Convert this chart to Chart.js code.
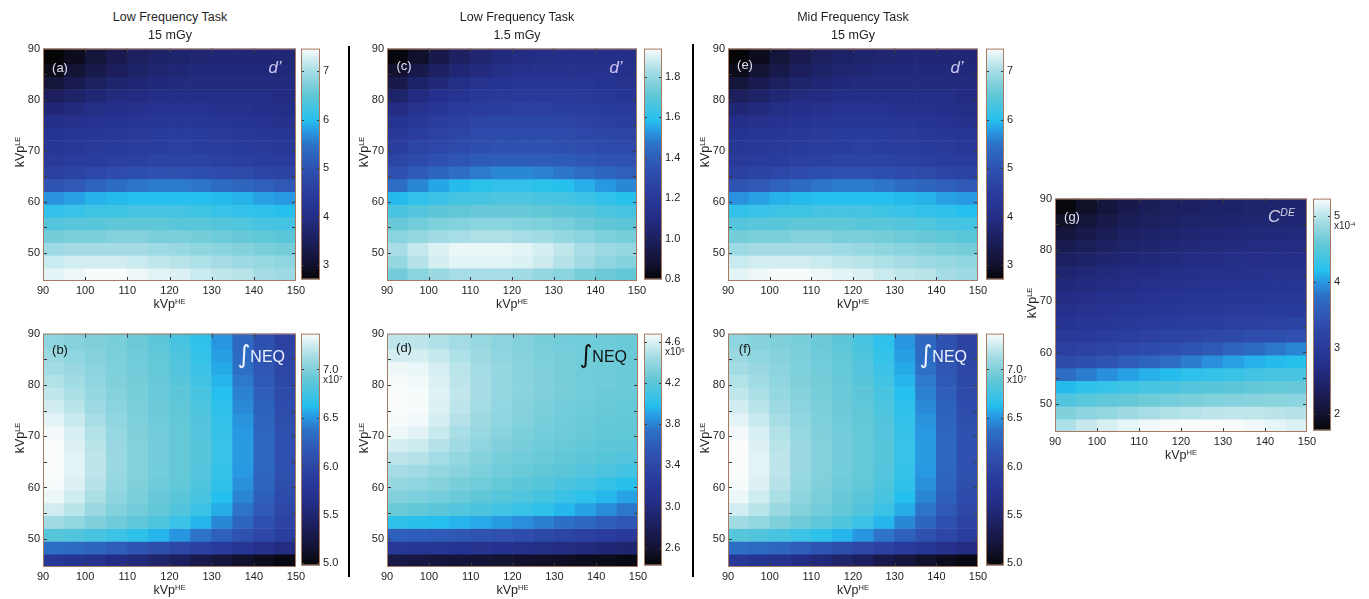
<!DOCTYPE html>
<html>
<head>
<meta charset="utf-8">
<script src="https://cdn.jsdelivr.net/npm/chart.js@4.4.1/dist/chart.umd.min.js"></script>
<style>
  body { margin: 0; width: 1369px; height: 599px; background: #fff; position: relative; overflow: hidden;
         font-family: "Liberation Sans", Arial, sans-serif; color: #1e1e1e; }
  .t { position: absolute; white-space: nowrap; line-height: 1; }
  .sup { font-size: 0.6em; position: relative; top: -0.6em; }
  .sep { position: absolute; background: #000; width: 2px; }
</style>
</head>
<body>
<script>
// grid of the maps: cell centres along kVp(HE), cell edges along kVp(LE), top to bottom
const kvpHE = [92.5, 97.5, 102.5, 107.5, 112.5, 117.5, 122.5, 127.5, 132.5, 137.5, 142.5, 147.5];
const kvpLEEdges = [90, 87, 84.5, 82, 79.5, 77, 74.5, 72, 69.5, 67, 64.5, 62, 59.5, 57, 54.5, 52, 49.5, 47, 44.5];
const heTicks = [90, 100, 110, 120, 130, 140, 150];
const leTicks = [50, 60, 70, 80, 90];
const leMarks = [50, 55, 60, 65, 70, 75, 80, 85];

// (a) d' low frequency, 15 mGy
const dPrimeLow15 = [
  [2.7, 2.88, 3.15, 3.38, 3.55, 3.65, 3.7, 3.75, 3.8, 3.8, 3.8, 3.8],
  [2.85, 3.1, 3.32, 3.5, 3.65, 3.75, 3.8, 3.85, 3.85, 3.85, 3.85, 3.85],
  [3.15, 3.38, 3.55, 3.7, 3.8, 3.85, 3.9, 3.9, 3.9, 3.9, 3.9, 3.9],
  [3.5, 3.65, 3.8, 3.9, 3.95, 4.0, 4.0, 4.0, 4.0, 4.0, 4.0, 3.95],
  [3.8, 3.9, 4.0, 4.05, 4.1, 4.15, 4.15, 4.15, 4.1, 4.1, 4.05, 4.0],
  [4.05, 4.1, 4.15, 4.2, 4.25, 4.3, 4.3, 4.3, 4.25, 4.2, 4.15, 4.1],
  [4.2, 4.25, 4.3, 4.35, 4.4, 4.45, 4.45, 4.45, 4.4, 4.35, 4.3, 4.25],
  [4.3, 4.35, 4.4, 4.45, 4.5, 4.5, 4.55, 4.5, 4.5, 4.45, 4.4, 4.35],
  [4.4, 4.45, 4.5, 4.55, 4.6, 4.65, 4.65, 4.65, 4.6, 4.55, 4.5, 4.45],
  [4.6, 4.65, 4.75, 4.85, 4.9, 4.95, 4.95, 4.9, 4.85, 4.8, 4.7, 4.65],
  [5.0, 5.1, 5.25, 5.4, 5.5, 5.55, 5.55, 5.5, 5.4, 5.3, 5.2, 5.1],
  [5.7, 5.8, 5.9, 5.95, 6.0, 6.0, 6.0, 6.0, 5.95, 5.9, 5.8, 5.75],
  [6.1, 6.15, 6.2, 6.2, 6.25, 6.25, 6.25, 6.2, 6.15, 6.1, 6.05, 6.0],
  [6.4, 6.45, 6.45, 6.5, 6.5, 6.5, 6.45, 6.45, 6.4, 6.35, 6.3, 6.25],
  [6.65, 6.7, 6.7, 6.75, 6.75, 6.7, 6.7, 6.65, 6.6, 6.55, 6.5, 6.45],
  [6.95, 7.0, 7.0, 7.0, 7.0, 6.95, 6.9, 6.85, 6.8, 6.75, 6.7, 6.65],
  [7.2, 7.25, 7.25, 7.25, 7.2, 7.15, 7.1, 7.05, 7.0, 6.95, 6.9, 6.85],
  [7.35, 7.4, 7.45, 7.45, 7.4, 7.35, 7.3, 7.2, 7.15, 7.1, 7.0, 6.95],
];
const dPrimeLow15Range = [2.7, 7.47];
const dPrimeLow15Ticks = [3, 4, 5, 6, 7];

// (b) integrated NEQ low frequency, 15 mGy (x10^7)
const neqLow15 = [
  [7.05, 7.02, 7.0, 6.97, 6.93, 6.87, 6.78, 6.66, 6.5, 6.3, 6.1, 5.95],
  [7.1, 7.06, 7.02, 6.98, 6.94, 6.89, 6.81, 6.69, 6.53, 6.33, 6.13, 5.97],
  [7.13, 7.09, 7.04, 6.99, 6.95, 6.9, 6.83, 6.72, 6.56, 6.36, 6.16, 6.0],
  [7.17, 7.12, 7.06, 7.0, 6.96, 6.91, 6.85, 6.75, 6.6, 6.4, 6.19, 6.02],
  [7.21, 7.15, 7.08, 7.02, 6.97, 6.92, 6.87, 6.78, 6.63, 6.43, 6.22, 6.04],
  [7.26, 7.19, 7.11, 7.04, 6.98, 6.93, 6.88, 6.8, 6.66, 6.46, 6.25, 6.06],
  [7.31, 7.23, 7.14, 7.06, 6.99, 6.94, 6.89, 6.82, 6.68, 6.49, 6.27, 6.08],
  [7.35, 7.27, 7.17, 7.08, 7.0, 6.95, 6.9, 6.83, 6.7, 6.51, 6.29, 6.1],
  [7.37, 7.29, 7.19, 7.09, 7.01, 6.95, 6.9, 6.84, 6.71, 6.52, 6.3, 6.11],
  [7.37, 7.3, 7.2, 7.1, 7.01, 6.95, 6.9, 6.84, 6.71, 6.52, 6.3, 6.11],
  [7.37, 7.3, 7.2, 7.1, 7.01, 6.95, 6.9, 6.83, 6.7, 6.51, 6.29, 6.1],
  [7.36, 7.29, 7.18, 7.08, 7.0, 6.94, 6.89, 6.81, 6.67, 6.48, 6.27, 6.08],
  [7.33, 7.25, 7.15, 7.05, 6.98, 6.92, 6.86, 6.78, 6.63, 6.44, 6.23, 6.05],
  [7.26, 7.19, 7.1, 7.01, 6.95, 6.89, 6.82, 6.72, 6.57, 6.38, 6.18, 6.01],
  [7.12, 7.07, 7.0, 6.94, 6.88, 6.81, 6.72, 6.6, 6.45, 6.28, 6.1, 5.96],
  [6.85, 6.82, 6.78, 6.73, 6.67, 6.6, 6.5, 6.38, 6.25, 6.12, 6.0, 5.9],
  [6.35, 6.32, 6.28, 6.22, 6.15, 6.08, 6.0, 5.92, 5.84, 5.76, 5.68, 5.6],
  [5.8, 5.75, 5.7, 5.62, 5.55, 5.47, 5.39, 5.3, 5.22, 5.14, 5.07, 5.02],
];
const neqLow15Range = [4.98, 7.37];
const neqLow15Ticks = [5.0, 5.5, 6.0, 6.5, 7.0];

// (c) d' low frequency, 1.5 mGy
const dPrimeLow1p5 = [
  [0.81, 0.87, 0.95, 1.01, 1.05, 1.08, 1.1, 1.11, 1.12, 1.12, 1.12, 1.12],
  [0.88, 0.95, 1.01, 1.06, 1.09, 1.11, 1.13, 1.14, 1.14, 1.14, 1.14, 1.13],
  [0.95, 1.02, 1.07, 1.11, 1.14, 1.16, 1.17, 1.17, 1.17, 1.17, 1.16, 1.15],
  [1.03, 1.09, 1.13, 1.16, 1.19, 1.2, 1.21, 1.21, 1.21, 1.2, 1.19, 1.18],
  [1.1, 1.15, 1.18, 1.21, 1.23, 1.24, 1.25, 1.25, 1.24, 1.23, 1.22, 1.21],
  [1.16, 1.2, 1.23, 1.25, 1.27, 1.28, 1.28, 1.28, 1.27, 1.26, 1.25, 1.24],
  [1.2, 1.23, 1.26, 1.28, 1.3, 1.31, 1.31, 1.31, 1.3, 1.29, 1.28, 1.27],
  [1.24, 1.27, 1.29, 1.31, 1.33, 1.34, 1.34, 1.34, 1.33, 1.32, 1.31, 1.3],
  [1.28, 1.31, 1.34, 1.36, 1.38, 1.39, 1.39, 1.39, 1.38, 1.37, 1.35, 1.34],
  [1.34, 1.38, 1.42, 1.45, 1.48, 1.5, 1.5, 1.49, 1.47, 1.45, 1.42, 1.4],
  [1.45, 1.5, 1.55, 1.58, 1.6, 1.61, 1.61, 1.6, 1.59, 1.56, 1.53, 1.5],
  [1.58, 1.61, 1.63, 1.65, 1.66, 1.67, 1.67, 1.66, 1.65, 1.63, 1.61, 1.59],
  [1.66, 1.68, 1.7, 1.71, 1.72, 1.72, 1.72, 1.71, 1.7, 1.69, 1.67, 1.65],
  [1.72, 1.74, 1.76, 1.77, 1.78, 1.78, 1.77, 1.76, 1.75, 1.73, 1.71, 1.7],
  [1.78, 1.8, 1.82, 1.83, 1.84, 1.84, 1.83, 1.82, 1.8, 1.78, 1.76, 1.75],
  [1.83, 1.87, 1.9, 1.92, 1.92, 1.92, 1.91, 1.89, 1.86, 1.83, 1.81, 1.8],
  [1.8, 1.85, 1.89, 1.91, 1.91, 1.91, 1.9, 1.88, 1.85, 1.82, 1.79, 1.77],
  [1.74, 1.78, 1.81, 1.83, 1.83, 1.83, 1.82, 1.8, 1.78, 1.75, 1.73, 1.71],
];
const dPrimeLow1p5Range = [0.8, 1.94];
const dPrimeLow1p5Ticks = [0.8, 1.0, 1.2, 1.4, 1.6, 1.8];

// (d) integrated NEQ low frequency, 1.5 mGy (x10^6)
const neqLow1p5 = [
  [4.52, 4.52, 4.49, 4.45, 4.41, 4.37, 4.34, 4.31, 4.29, 4.28, 4.27, 4.26],
  [4.58, 4.58, 4.54, 4.48, 4.43, 4.38, 4.35, 4.32, 4.3, 4.28, 4.27, 4.26],
  [4.65, 4.64, 4.58, 4.51, 4.45, 4.4, 4.36, 4.33, 4.3, 4.28, 4.27, 4.26],
  [4.67, 4.66, 4.6, 4.52, 4.46, 4.4, 4.36, 4.33, 4.3, 4.28, 4.27, 4.26],
  [4.68, 4.67, 4.61, 4.53, 4.46, 4.4, 4.36, 4.33, 4.3, 4.28, 4.26, 4.25],
  [4.68, 4.67, 4.6, 4.52, 4.45, 4.39, 4.35, 4.32, 4.29, 4.27, 4.25, 4.24],
  [4.67, 4.66, 4.58, 4.5, 4.43, 4.38, 4.34, 4.31, 4.28, 4.26, 4.24, 4.23],
  [4.65, 4.62, 4.55, 4.47, 4.41, 4.36, 4.32, 4.29, 4.27, 4.25, 4.23, 4.22],
  [4.58, 4.56, 4.5, 4.44, 4.38, 4.33, 4.3, 4.27, 4.25, 4.23, 4.21, 4.2],
  [4.52, 4.5, 4.45, 4.4, 4.35, 4.31, 4.28, 4.25, 4.23, 4.21, 4.19, 4.17],
  [4.46, 4.44, 4.4, 4.36, 4.32, 4.28, 4.25, 4.22, 4.2, 4.17, 4.14, 4.1],
  [4.4, 4.38, 4.35, 4.31, 4.28, 4.24, 4.21, 4.18, 4.14, 4.1, 4.05, 4.0],
  [4.34, 4.32, 4.29, 4.26, 4.22, 4.19, 4.15, 4.11, 4.06, 4.01, 3.96, 3.9],
  [4.25, 4.23, 4.2, 4.17, 4.14, 4.1, 4.06, 4.01, 3.96, 3.9, 3.83, 3.76],
  [4.02, 4.0, 3.98, 3.95, 3.92, 3.88, 3.84, 3.79, 3.73, 3.67, 3.6, 3.54],
  [3.62, 3.6, 3.58, 3.55, 3.52, 3.49, 3.45, 3.41, 3.37, 3.33, 3.28, 3.24],
  [3.2, 3.18, 3.16, 3.14, 3.12, 3.1, 3.07, 3.04, 3.01, 2.98, 2.95, 2.92],
  [2.7, 2.68, 2.66, 2.64, 2.62, 2.6, 2.58, 2.56, 2.54, 2.52, 2.5, 2.48],
];
const neqLow1p5Range = [2.43, 4.68];
const neqLow1p5Ticks = [2.6, 3.0, 3.4, 3.8, 4.2, 4.6];

// (e) d' mid frequency, 15 mGy
const dPrimeMid15 = [
  [2.7, 2.88, 3.15, 3.38, 3.55, 3.65, 3.7, 3.75, 3.8, 3.8, 3.8, 3.8],
  [2.85, 3.1, 3.32, 3.5, 3.65, 3.75, 3.8, 3.85, 3.85, 3.85, 3.85, 3.85],
  [3.15, 3.38, 3.55, 3.7, 3.8, 3.85, 3.9, 3.9, 3.9, 3.9, 3.9, 3.9],
  [3.5, 3.65, 3.8, 3.9, 3.95, 4.0, 4.0, 4.0, 4.0, 4.0, 4.0, 3.95],
  [3.8, 3.9, 4.0, 4.05, 4.1, 4.15, 4.15, 4.15, 4.1, 4.1, 4.05, 4.0],
  [4.05, 4.1, 4.15, 4.2, 4.25, 4.3, 4.3, 4.3, 4.25, 4.2, 4.15, 4.1],
  [4.2, 4.25, 4.3, 4.35, 4.4, 4.45, 4.45, 4.45, 4.4, 4.35, 4.3, 4.25],
  [4.3, 4.35, 4.4, 4.45, 4.5, 4.5, 4.55, 4.5, 4.5, 4.45, 4.4, 4.35],
  [4.4, 4.45, 4.5, 4.55, 4.6, 4.65, 4.65, 4.65, 4.6, 4.55, 4.5, 4.45],
  [4.6, 4.65, 4.75, 4.85, 4.9, 4.95, 4.95, 4.9, 4.85, 4.8, 4.7, 4.65],
  [5.0, 5.1, 5.25, 5.4, 5.5, 5.55, 5.55, 5.5, 5.4, 5.3, 5.2, 5.1],
  [5.7, 5.8, 5.9, 5.95, 6.0, 6.0, 6.0, 6.0, 5.95, 5.9, 5.8, 5.75],
  [6.1, 6.15, 6.2, 6.2, 6.25, 6.25, 6.25, 6.2, 6.15, 6.1, 6.05, 6.0],
  [6.4, 6.45, 6.45, 6.5, 6.5, 6.5, 6.45, 6.45, 6.4, 6.35, 6.3, 6.25],
  [6.65, 6.7, 6.7, 6.75, 6.75, 6.7, 6.7, 6.65, 6.6, 6.55, 6.5, 6.45],
  [6.95, 7.0, 7.0, 7.0, 7.0, 6.95, 6.9, 6.85, 6.8, 6.75, 6.7, 6.65],
  [7.2, 7.25, 7.25, 7.25, 7.2, 7.15, 7.1, 7.05, 7.0, 6.95, 6.9, 6.85],
  [7.35, 7.4, 7.45, 7.45, 7.4, 7.35, 7.3, 7.2, 7.15, 7.1, 7.0, 6.95],
];
const dPrimeMid15Range = [2.7, 7.47];
const dPrimeMid15Ticks = [3, 4, 5, 6, 7];

// (f) integrated NEQ mid frequency, 15 mGy (x10^7)
const neqMid15 = [
  [7.05, 7.02, 7.0, 6.97, 6.93, 6.87, 6.78, 6.66, 6.5, 6.3, 6.1, 5.95],
  [7.1, 7.06, 7.02, 6.98, 6.94, 6.89, 6.81, 6.69, 6.53, 6.33, 6.13, 5.97],
  [7.13, 7.09, 7.04, 6.99, 6.95, 6.9, 6.83, 6.72, 6.56, 6.36, 6.16, 6.0],
  [7.17, 7.12, 7.06, 7.0, 6.96, 6.91, 6.85, 6.75, 6.6, 6.4, 6.19, 6.02],
  [7.21, 7.15, 7.08, 7.02, 6.97, 6.92, 6.87, 6.78, 6.63, 6.43, 6.22, 6.04],
  [7.26, 7.19, 7.11, 7.04, 6.98, 6.93, 6.88, 6.8, 6.66, 6.46, 6.25, 6.06],
  [7.31, 7.23, 7.14, 7.06, 6.99, 6.94, 6.89, 6.82, 6.68, 6.49, 6.27, 6.08],
  [7.35, 7.27, 7.17, 7.08, 7.0, 6.95, 6.9, 6.83, 6.7, 6.51, 6.29, 6.1],
  [7.37, 7.29, 7.19, 7.09, 7.01, 6.95, 6.9, 6.84, 6.71, 6.52, 6.3, 6.11],
  [7.37, 7.3, 7.2, 7.1, 7.01, 6.95, 6.9, 6.84, 6.71, 6.52, 6.3, 6.11],
  [7.37, 7.3, 7.2, 7.1, 7.01, 6.95, 6.9, 6.83, 6.7, 6.51, 6.29, 6.1],
  [7.36, 7.29, 7.18, 7.08, 7.0, 6.94, 6.89, 6.81, 6.67, 6.48, 6.27, 6.08],
  [7.33, 7.25, 7.15, 7.05, 6.98, 6.92, 6.86, 6.78, 6.63, 6.44, 6.23, 6.05],
  [7.26, 7.19, 7.1, 7.01, 6.95, 6.89, 6.82, 6.72, 6.57, 6.38, 6.18, 6.01],
  [7.12, 7.07, 7.0, 6.94, 6.88, 6.81, 6.72, 6.6, 6.45, 6.28, 6.1, 5.96],
  [6.85, 6.82, 6.78, 6.73, 6.67, 6.6, 6.5, 6.38, 6.25, 6.12, 6.0, 5.9],
  [6.35, 6.32, 6.28, 6.22, 6.15, 6.08, 6.0, 5.92, 5.84, 5.76, 5.68, 5.6],
  [5.8, 5.75, 5.7, 5.62, 5.55, 5.47, 5.39, 5.3, 5.22, 5.14, 5.07, 5.02],
];
const neqMid15Range = [4.98, 7.37];
const neqMid15Ticks = [5.0, 5.5, 6.0, 6.5, 7.0];

// (g) dual-energy contrast C_DE (x10^-4)
const cde = [
  [1.78, 1.95, 2.1, 2.22, 2.3, 2.36, 2.4, 2.43, 2.45, 2.47, 2.48, 2.5],
  [1.95, 2.08, 2.2, 2.3, 2.37, 2.42, 2.46, 2.49, 2.51, 2.53, 2.54, 2.55],
  [2.1, 2.2, 2.3, 2.38, 2.44, 2.49, 2.52, 2.55, 2.57, 2.59, 2.6, 2.61],
  [2.25, 2.33, 2.4, 2.46, 2.51, 2.55, 2.58, 2.61, 2.63, 2.65, 2.66, 2.67],
  [2.38, 2.44, 2.5, 2.55, 2.59, 2.62, 2.65, 2.68, 2.7, 2.72, 2.73, 2.74],
  [2.5, 2.55, 2.6, 2.64, 2.67, 2.7, 2.73, 2.75, 2.77, 2.79, 2.8, 2.81],
  [2.6, 2.64, 2.68, 2.72, 2.75, 2.78, 2.8, 2.82, 2.84, 2.86, 2.87, 2.88],
  [2.68, 2.72, 2.76, 2.79, 2.82, 2.85, 2.87, 2.9, 2.92, 2.94, 2.95, 2.96],
  [2.76, 2.8, 2.84, 2.87, 2.9, 2.93, 2.96, 2.98, 3.0, 3.02, 3.04, 3.05],
  [2.86, 2.9, 2.94, 2.98, 3.01, 3.04, 3.07, 3.1, 3.12, 3.14, 3.16, 3.18],
  [2.98, 3.02, 3.06, 3.1, 3.14, 3.18, 3.22, 3.26, 3.3, 3.34, 3.37, 3.4],
  [3.12, 3.17, 3.22, 3.27, 3.32, 3.38, 3.45, 3.53, 3.62, 3.72, 3.82, 3.9],
  [3.3, 3.38, 3.46, 3.55, 3.65, 3.75, 3.85, 3.95, 4.03, 4.1, 4.15, 4.18],
  [3.75, 3.85, 3.95, 4.03, 4.1, 4.16, 4.22, 4.27, 4.31, 4.35, 4.38, 4.4],
  [4.15, 4.22, 4.28, 4.33, 4.38, 4.42, 4.46, 4.49, 4.52, 4.55, 4.57, 4.58],
  [4.45, 4.5, 4.54, 4.58, 4.62, 4.66, 4.69, 4.72, 4.74, 4.76, 4.77, 4.78],
  [4.72, 4.78, 4.83, 4.88, 4.92, 4.96, 4.99, 5.01, 5.02, 5.02, 5.0, 4.98],
  [4.95, 5.05, 5.12, 5.18, 5.22, 5.25, 5.26, 5.26, 5.25, 5.22, 5.18, 5.14],
];
const cdeRange = [1.75, 5.26];
const cdeTicks = [2, 3, 4, 5];

// black - navy - blue - cyan - white colour map
const cmapStops = [
  [0, [5, 5, 8]], [0.07, [18, 18, 48]], [0.17, [28, 31, 92]], [0.28, [36, 47, 138]],
  [0.38, [42, 61, 158]], [0.48, [47, 82, 176]], [0.58, [45, 112, 198]], [0.64, [40, 152, 226]],
  [0.69, [38, 192, 238]], [0.8, [98, 199, 214]], [0.9, [164, 220, 228]], [1, [250, 252, 252]],
];

Chart.defaults.font.family = "'Liberation Sans', Arial, sans-serif";
Chart.defaults.font.size = 11;
Chart.defaults.color = '#1e1e1e';

function cmap(t) {
  t = Math.max(0, Math.min(1, t));
  for (let i = 1; i < cmapStops.length; i++) {
    const [t1, c1] = cmapStops[i];
    if (t <= t1) {
      const [t0, c0] = cmapStops[i - 1];
      const f = (t - t0) / (t1 - t0);
      return `rgb(${c0.map((c, k) => Math.round(c + (c1[k] - c) * f)).join(',')})`;
    }
  }
  return 'rgb(250,252,252)';
}

function addCanvas(left, top, width, height) {
  const c = document.createElement('canvas');
  c.width = width;
  c.height = height;
  c.style.cssText = `position:absolute;left:${left}px;top:${top}px;width:${width}px;height:${height}px`;
  document.body.appendChild(c);
  return c;
}

function text(html, x, y, css, anchor) {
  const d = document.createElement('div');
  d.className = 't';
  d.innerHTML = html;
  d.style.left = x + 'px';
  d.style.top = y + 'px';
  d.style.transform = anchor || 'translate(-50%,-50%)';
  Object.assign(d.style, css || {});
  document.body.appendChild(d);
}

// frame and inward tick marks, matlab style
const frame = {
  id: 'frame',
  afterDatasetsDraw(chart, args, opts) {
    const {ctx, chartArea: a, scales} = chart;
    ctx.save();
    ctx.strokeStyle = '#3a3a3a';
    ctx.lineWidth = 1;
    ctx.beginPath();
    (opts.xMarks || []).forEach(v => {
      const x = Math.round(scales.x.getPixelForValue(v)) + 0.5;
      ctx.moveTo(x, a.top); ctx.lineTo(x, a.top + opts.len);
      ctx.moveTo(x, a.bottom); ctx.lineTo(x, a.bottom - opts.len);
    });
    (opts.yMarks || []).forEach(v => {
      const y = Math.round(scales.y.getPixelForValue(v)) + 0.5;
      ctx.moveTo(a.left, y); ctx.lineTo(a.left + opts.len, y);
      ctx.moveTo(a.right, y); ctx.lineTo(a.right - opts.len, y);
    });
    ctx.stroke();
    ctx.strokeStyle = '#a87a62';
    ctx.strokeRect(a.left + 0.5, a.top + 0.5, a.width - 1, a.height - 1);
    ctx.restore();
  },
};

const baseOptions = {
  responsive: false,
  animation: false,
  events: [],
};

function heatmap(p) {
  const [L, T, R, B] = p.box;
  const canvas = addCanvas(L - 40, T - 8, R - L + 54, B - T + 30);
  const [lo, hi] = p.range;
  const datasets = p.values.map((row, i) => ({
    data: kvpHE.map(x => ({x, y: [kvpLEEdges[i + 1], kvpLEEdges[i]]})),
    backgroundColor: row.map(v => cmap((v - lo) / (hi - lo))),
    borderWidth: 0,
    grouped: false,
    barPercentage: 1,
    categoryPercentage: 1,
  }));
  new Chart(canvas, {
    type: 'bar',
    data: {datasets},
    options: {
      ...baseOptions,
      layout: {padding: {top: 8, right: 14, left: 0, bottom: 0}},
      plugins: {
        legend: {display: false},
        tooltip: {enabled: false},
        frame: {xMarks: heTicks.slice(1, -1), yMarks: leMarks, len: 4},
      },
      scales: {
        x: {
          type: 'linear', min: 90, max: 150, offset: false,
          grid: {display: false, drawTicks: false}, border: {display: false},
          afterBuildTicks: s => { s.ticks = heTicks.map(value => ({value})); },
          afterFit: s => { s.height = 22; },
          ticks: {padding: 3, maxRotation: 0, autoSkip: false},
        },
        y: {
          type: 'linear', min: 44.5, max: 90,
          grid: {display: false, drawTicks: false}, border: {display: false},
          afterBuildTicks: s => { s.ticks = leTicks.map(value => ({value})); },
          afterFit: s => { s.width = 40; },
          ticks: {padding: 3, autoSkip: false},
        },
      },
    },
    plugins: [frame],
  });
}

function colorbar(p) {
  const [, T, , B] = p.box;
  const [cL, cR] = p.bar;
  const canvas = addCanvas(cL, T - 8, cR - cL + 34, B - T + 16);
  const [lo, hi] = p.range;
  new Chart(canvas, {
    type: 'bar',
    data: {
      labels: [''],
      datasets: [{
        data: [[lo, hi]],
        backgroundColor: ctx => {
          const a = ctx.chart.chartArea;
          if (!a) return 'transparent';
          const g = ctx.chart.ctx.createLinearGradient(0, a.bottom, 0, a.top);
          cmapStops.forEach(([t]) => g.addColorStop(t, cmap(t)));
          return g;
        },
        borderWidth: 0,
        barPercentage: 1,
        categoryPercentage: 1,
      }],
    },
    options: {
      ...baseOptions,
      layout: {padding: {top: 8, bottom: 8, left: 0, right: 0}},
      plugins: {
        legend: {display: false},
        tooltip: {enabled: false},
        frame: {yMarks: p.ticks.filter(v => v > lo && v < hi), len: 3},
      },
      scales: {
        x: {display: false},
        y: {
          position: 'right', min: lo, max: hi,
          grid: {display: false, drawTicks: false}, border: {display: false},
          afterBuildTicks: s => { s.ticks = p.ticks.map(value => ({value})); },
          afterFit: s => { s.width = 34; },
          ticks: {padding: 3, autoSkip: false, callback: v => v.toFixed(p.digits)},
        },
      },
    },
    plugins: [frame],
  });
  if (p.exp) {
    const top = p.ticks[p.ticks.length - 1];
    const y = B - (top - lo) / (hi - lo) * (B - T) + 12;
    text(p.exp, cR + 3, y, {fontSize: '10px'}, 'translate(0,-50%)');
  }
}

const panels = [
  {values: dPrimeLow15, range: dPrimeLow15Range, ticks: dPrimeLow15Ticks, digits: 0,
   box: [43, 47, 296, 281], bar: [301, 320], letter: '(a)', letterDy: 20, dark: true, metric: 'd'},
  {values: neqLow15, range: neqLow15Range, ticks: neqLow15Ticks, digits: 1, exp: 'x10<span class="sup">7</span>',
   box: [43, 332, 296, 567], bar: [301, 320], letter: '(b)', letterDy: 17, dark: false, metric: 'neq', metricColor: '#eef4ff'},
  {values: dPrimeLow1p5, range: dPrimeLow1p5Range, ticks: dPrimeLow1p5Ticks, digits: 1,
   box: [387, 47, 637, 281], bar: [644, 662], letter: '(c)', letterDy: 18, dark: true, metric: 'd'},
  {values: neqLow1p5, range: neqLow1p5Range, ticks: neqLow1p5Ticks, digits: 1, exp: 'x10<span class="sup">6</span>',
   box: [387, 332, 638, 567], bar: [644, 662], letter: '(d)', letterDy: 15, dark: false, metric: 'neq', metricColor: '#111'},
  {values: dPrimeMid15, range: dPrimeMid15Range, ticks: dPrimeMid15Ticks, digits: 0,
   box: [728, 47, 978, 281], bar: [986, 1004], letter: '(e)', letterDy: 17, dark: true, metric: 'd'},
  {values: neqMid15, range: neqMid15Range, ticks: neqMid15Ticks, digits: 1, exp: 'x10<span class="sup">7</span>',
   box: [728, 332, 978, 567], bar: [986, 1004], letter: '(f)', letterDy: 16, dark: false, metric: 'neq', metricColor: '#eef4ff'},
  {values: cde, range: cdeRange, ticks: cdeTicks, digits: 0, exp: 'x10<span class="sup">-4</span>',
   box: [1055, 197, 1307, 432], bar: [1313, 1331], letter: '(g)', letterDy: 19, dark: true, metric: 'cde'},
];

panels.forEach(p => {
  heatmap(p);
  colorbar(p);
  const [L, T, R, B] = p.box;
  text('kVp<span class="sup">HE</span>', (L + R) / 2, B + 23, {fontSize: '12.5px'});
  text('kVp<span class="sup">LE</span>', L - 23, (T + B) / 2 - 12, {fontSize: '12.5px'},
    'translate(-50%,-50%) rotate(-90deg)');
  text(p.letter, L + 17, T + p.letterDy, {fontSize: '13px', color: p.dark ? '#e2e2f0' : '#111'});
  if (p.metric === 'd') {
    text('d’', R - 21, T + 20, {fontSize: '17px', fontStyle: 'italic', color: '#cfc6f2'});
  } else if (p.metric === 'neq') {
    text('<span style="font-family:\'DejaVu Sans\';font-size:25px;position:relative;top:1px">∫</span>NEQ',
      R - 11, T + 21, {fontSize: '16px', color: p.metricColor}, 'translate(-100%,-50%)');
  } else {
    text('C<span class="sup" style="font-size:0.62em">DE</span>', R - 12, T + 19,
      {fontSize: '17px', fontStyle: 'italic', color: '#d4d4ea'}, 'translate(-100%,-50%)');
  }
});

// column titles
text('Low Frequency Task', 170, 17, {fontSize: '12.5px'});
text('15 mGy', 170, 35, {fontSize: '12.5px'});
text('Low Frequency Task', 517, 17, {fontSize: '12.5px'});
text('1.5 mGy', 517, 35, {fontSize: '12.5px'});
text('Mid Frequency Task', 853, 17, {fontSize: '12.5px'});
text('15 mGy', 853, 35, {fontSize: '12.5px'});

// separators between the task columns
[[348, 46, 531], [692, 44, 533]].forEach(([x, y, h]) => {
  const d = document.createElement('div');
  d.className = 'sep';
  d.style.left = x + 'px';
  d.style.top = y + 'px';
  d.style.height = h + 'px';
  document.body.appendChild(d);
});
</script>
</body>
</html>
